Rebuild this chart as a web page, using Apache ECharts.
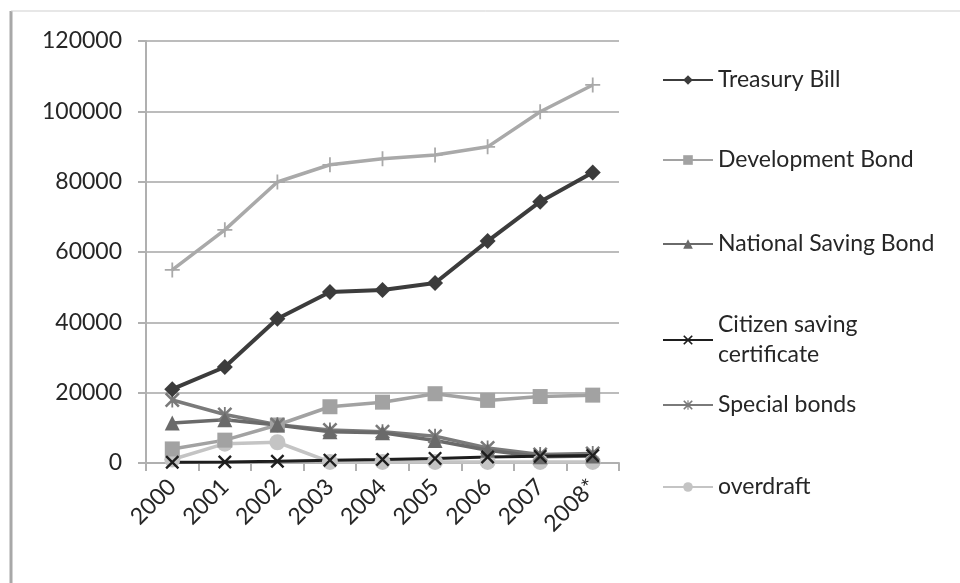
<!DOCTYPE html>
<html>
<head>
<meta charset="utf-8">
<script src="https://cdn.jsdelivr.net/npm/echarts@6/dist/echarts.min.js"></script>
<style>html,body{margin:0;padding:0;background:#fff;}#c{width:960px;height:583px;}</style>
</head>
<body>
<div id="c"></div>
<script>
const years = ['2000','2001','2002','2003','2004','2005','2006','2007','2008*'];
const totalDebt = [54900, 66300, 79900, 84800, 86500, 87600, 89900, 99900, 107500];
const treasuryBill = [21000, 27300, 41000, 48600, 49200, 51200, 63100, 74300, 82600];
const developmentBond = [4000, 6500, 10800, 16000, 17300, 19700, 17800, 18900, 19300];
const nationalSavingBond = [11400, 12300, 10800, 8900, 8600, 6400, 3600, 1800, 2000];
const citizenSaving = [200, 300, 500, 800, 1000, 1300, 1700, 1900, 2100];
const specialBonds = [17900, 13800, 10900, 9400, 8900, 7600, 4300, 2400, 2700];
const overdraft = [1000, 5500, 5900, 300, 300, 300, 300, 300, 300];
const yTicks = [0, 20000, 40000, 60000, 80000, 100000, 120000];

const FONT = 'Lato, "Open Sans", sans-serif';
const xShape = 'path://M0,1.2L1.2,0L5,3.8L8.8,0L10,1.2L6.2,5L10,8.8L8.8,10L5,6.2L1.2,10L0,8.8L3.8,5Z';
const starShape = 'path://M0,1.2L1.2,0L4.4,3.2L4.4,0L5.6,0L5.6,3.2L8.8,0L10,1.2L6.2,5L10,8.8L8.8,10L5.6,6.8L5.6,10L4.4,10L4.4,6.8L1.2,10L0,8.8L3.8,5Z';
const plusShape = 'path://M4.4,0L5.6,0L5.6,4.4L10,4.4L10,5.6L5.6,5.6L5.6,10L4.4,10L4.4,5.6L0,5.6L0,4.4L4.4,4.4Z';

function mk(name, data, color, symbol, size, width) {
  return {
    name: name, type: 'line', data: data, symbol: symbol, symbolSize: size,
    lineStyle: {color: color, width: width},
    itemStyle: {color: color, borderWidth: 0},
    emphasis: {disabled: true}, animation: false, z: 3
  };
}

const series = [
  mk('Total', totalDebt, '#a9a9a9', plusShape, 15, 3.5),
  mk('overdraft', overdraft, '#c4c4c4', 'circle', 16, 3.5),
  mk('Development Bond', developmentBond, '#a2a2a2', 'rect', 15, 3.5),
  mk('Special bonds', specialBonds, '#7a7a7a', starShape, 15, 3.5),
  mk('National Saving Bond', nationalSavingBond, '#6a6a6a', 'triangle', 15, 3.5),
  mk('Citizen saving certificate', citizenSaving, '#1e1e1e', xShape, 14, 3),
  mk('Treasury Bill', treasuryBill, '#3c3c3c', 'diamond', 16, 4)
];

const legendItems = [
  {name: 'Treasury Bill', top: 65},
  {name: 'Development Bond', top: 145},
  {name: 'National Saving Bond', top: 229},
  {name: 'Citizen saving certificate', top: 310},
  {name: 'Special bonds', top: 390},
  {name: 'overdraft', top: 472}
];
const legends = legendItems.map(function (it) {
  return {
    data: [it.name], left: 662, top: it.top, orient: 'vertical',
    itemWidth: 50, itemHeight: 12, selectedMode: false, padding: 0,
    formatter: function (n) { return n === 'Citizen saving certificate' ? 'Citizen saving\ncertificate' : n; },
    textStyle: {fontFamily: FONT, fontSize: 23, color: '#262626', lineHeight: 30}
  };
});

const chart = echarts.init(document.getElementById('c'), null, {renderer: 'canvas'});
chart.setOption({
  backgroundColor: '#fff',
  animation: false,
  grid: {left: 146, right: 341, top: 41, bottom: 120},
  legend: legends,
  xAxis: {
    type: 'category', data: years, boundaryGap: true,
    axisLine: {show: true, lineStyle: {color: '#b0b0b0', width: 2}},
    axisTick: {show: true, interval: 0, length: 8, lineStyle: {color: '#b0b0b0', width: 2}},
    axisLabel: {interval: 0, rotate: 45, margin: 20, fontFamily: FONT, fontSize: 23, color: '#262626'}
  },
  yAxis: {
    type: 'value', min: 0, max: 120000, interval: 20000,
    axisLine: {show: true, lineStyle: {color: '#b0b0b0', width: 2}},
    axisTick: {show: true, length: 8, lineStyle: {color: '#b0b0b0', width: 2}},
    splitLine: {show: true, lineStyle: {color: '#bcbcbc', width: 2}},
    axisLabel: {margin: 24, fontFamily: FONT, fontSize: 23, color: '#262626',
      formatter: function (v) { return yTicks.indexOf(v) >= 0 ? String(v) : ''; }}
  },
  graphic: [
    {type: 'line', shape: {x1: 11, y1: 11, x2: 11, y2: 583}, style: {stroke: '#a8a8a8', lineWidth: 3}},
    {type: 'line', shape: {x1: 11, y1: 11, x2: 960, y2: 11}, style: {stroke: '#cfcfcf', lineWidth: 1}}
  ],
  series: series
});
</script>
</body>
</html>
